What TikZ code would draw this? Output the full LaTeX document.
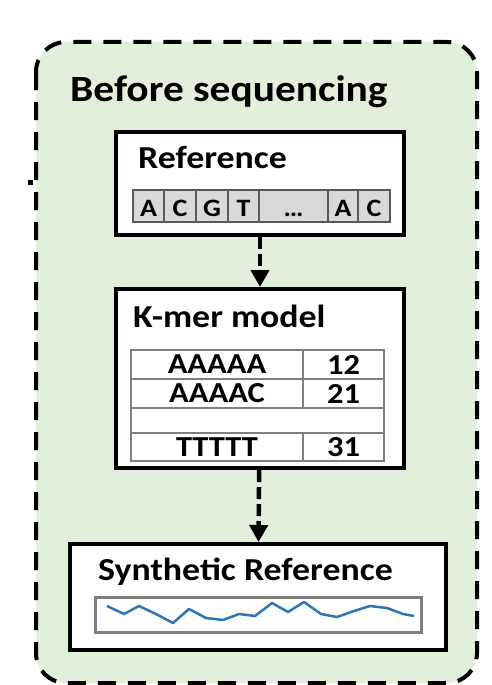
\documentclass[tikz,border=0pt]{standalone}
\usepackage{fontspec}
\setmainfont{Carlito}[FakeStretch=1.12]
\usetikzlibrary{arrows.meta}

\definecolor{panelgreen}{HTML}{E2EFDA}
\definecolor{cellgray}{HTML}{D9D9D9}
\definecolor{gridgray}{HTML}{7F7F7F}
\definecolor{traceblue}{HTML}{2E75B6}

\begin{document}
\begin{tikzpicture}[x=1pt,y=-1pt,
    panel/.style={draw,line width=4pt,fill=white,inner sep=0pt},
    heading/.style={anchor=base west,inner sep=0pt,font=\bfseries\fontsize{32}{32}\selectfont},
    flow/.style={draw,line width=4.5pt,dash pattern=on 12pt off 5pt,
      -{Triangle[length=17pt,width=18pt]}}]

        \useasboundingbox (0,0) rectangle (492,685);

        % stage frame
        \draw[line width=4pt,dash pattern=on 18pt off 12pt,fill=panelgreen,
          rounded corners=30pt] (36,42) rectangle (477,683);
        \fill (28,180) rectangle (33,185);
        \node[anchor=base west,inner sep=0pt,
          font=\bfseries\fontsize{37}{37}\selectfont] (title) at (70,101) {Before sequencing};

        % the three boxes
        \node[panel,minimum width=288,minimum height=103] (ref)  at (260,183.5) {};
        \node[panel,minimum width=288,minimum height=179] (kmer) at (260,378.5) {};
        \node[panel,minimum width=376,minimum height=106] (syn)  at (258,597)   {};

        \node[heading] (reftxt)  at (138,168) {Reference};
        \node[heading] (kmertxt) at (133,327) {K-mer model};
        \node[heading] (syntxt)  at (98,580)  {Synthetic Reference};

        % reference sequence
        \begin{scope}[every node/.style={inner sep=0pt}]
          \foreach \l/\a/\b [count=\i] in {A/133/164,C/164/196,G/196/228,T/228/259,
              {\ldots}/259/328,A/328/358,C/358/390} {
            \node[draw=black!65,line width=1.5pt,fill=cellgray,
              minimum width=\b-\a,minimum height=32] (s\i) at ({(\a+\b)/2},206) {};
            \node[anchor=base,font=\bfseries\fontsize{25}{25}\selectfont]
              at ({(\a+\b)/2},216) {\l};
          }
        \end{scope}

        % k-mer table
        \begin{scope}[every node/.style={draw=gridgray,line width=2pt,fill=white,
            inner sep=0pt,font=\bfseries\fontsize{29}{29}\selectfont}]
          \node[minimum width=172,minimum height=29] (k1) at (217,364.5) {AAAAA};
          \node[minimum width=81,minimum height=29]  (c1) at (343.5,364.5) {12};
          \node[minimum width=172,minimum height=29] (k2) at (217,393.5) {AAAAC};
          \node[minimum width=81,minimum height=29]  (c2) at (343.5,393.5) {21};
          \node[minimum width=253,minimum height=25] (k3) at (257.5,420.5) {};
          \node[minimum width=172,minimum height=28] (k4) at (217,447) {TTTTT};
          \node[minimum width=81,minimum height=28]  (c4) at (343.5,447) {31};
        \end{scope}

        % synthetic signal
        \node[draw=gridgray,line width=3pt,fill=white,inner sep=0pt,
          minimum width=326,minimum height=35] (trace) at (258.5,614.5) {};
        \draw[traceblue,line width=2.5pt,line join=round] plot coordinates {
          (107,606) (124,614) (139,606) (156,614) (173,623) (189,609) (206,618)
          (223,620) (239,614) (255,616) (272,603) (288,612) (304,602) (321,614)
          (337,617) (354,611) (370,606) (387,608) (403,614) (414,616)};

        \path (ref)  edge[flow] (kmer);
        \path (kmer) edge[flow] (syn);

      \end{tikzpicture}
\end{document}
